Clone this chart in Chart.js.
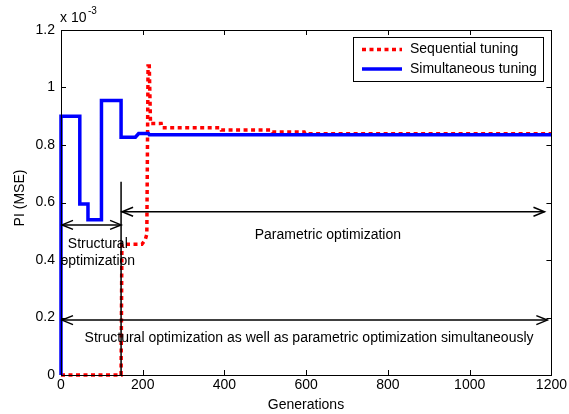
<!DOCTYPE html>
<html>
<head>
<meta charset="utf-8">
<script src="https://cdn.jsdelivr.net/npm/chart.js@4/dist/chart.umd.min.js"></script>
<style>
  html, body { margin: 0; padding: 0; background: #fff; }
  #wrap { width: 569px; height: 414px; }
</style>
</head>
<body>
<div id="wrap"><canvas id="c" width="569" height="414"></canvas></div>
<script>
// Performance index (MSE, in units of 1e-3) versus generations
const seqGen  = [0, 147, 149, 198, 206, 210, 213, 216, 219, 245, 247, 390, 392, 515, 517, 595, 597, 1200];
const seqPI   = [0, 0, 0.455, 0.455, 0.47, 0.49, 1.075, 1.075, 0.875, 0.875, 0.86, 0.86, 0.852, 0.852, 0.845, 0.845, 0.839, 0.839];
const simGen  = [0, 0, 46, 46, 66, 66, 99, 99, 147, 147, 182, 190, 214, 216, 1200];
const simPI   = [0, 0.9, 0.9, 0.595, 0.595, 0.54, 0.54, 0.955, 0.955, 0.827, 0.827, 0.84, 0.84, 0.836, 0.836];
const seriesNames = ['Sequential tuning', 'Simultaneous tuning'];
const xTicks = [0, 200, 400, 600, 800, 1000, 1200];
const yTicks = [0, 0.2, 0.4, 0.6, 0.8, 1, 1.2];

// Annotation arrows: [x0, x1, y, head at start, head at end]
const arrowSpans = [
  [0, 147, 0.522, true, true],
  [147, 1183, 0.568, true, true],
  [0, 1190, 0.191, true, true]
];
const dividerGen = 147, dividerTop = 0.672;
const notes = [
  { text: 'Structural', x: 90, y: 0.455 },
  { text: 'optimization', x: 90, y: 0.396 },
  { text: 'Parametric optimization', x: 653, y: 0.488 },
  { text: 'Structural optimization as well as parametric optimization simultaneously', x: 607, y: 0.128 }
];

const FONT = '"Liberation Sans", Arial, sans-serif';
const FS = 14;
const toPts = (xs, ys) => xs.map((x, i) => ({ x: x, y: ys[i] }));

const decor = {
  id: 'decor',
  afterDatasetsDraw(chart) {
    const ctx = chart.ctx, xs = chart.scales.x, ys = chart.scales.y, a = chart.chartArea;
    ctx.save();
    // axis box
    ctx.strokeStyle = '#000'; ctx.lineWidth = 1;
    ctx.strokeRect(Math.round(a.left) + 0.5, Math.round(a.top) + 0.5, Math.round(a.right - a.left), Math.round(a.bottom - a.top));
    // inward ticks on all four sides
    ctx.beginPath();
    xTicks.forEach(v => {
      const px = Math.round(xs.getPixelForValue(v)) + 0.5;
      ctx.moveTo(px, a.bottom); ctx.lineTo(px, a.bottom - 5);
      ctx.moveTo(px, a.top); ctx.lineTo(px, a.top + 5);
    });
    yTicks.forEach(v => {
      const py = Math.round(ys.getPixelForValue(v)) + 0.5;
      ctx.moveTo(a.left, py); ctx.lineTo(a.left + 5, py);
      ctx.moveTo(a.right, py); ctx.lineTo(a.right - 5, py);
    });
    ctx.stroke();

    // annotation arrows
    ctx.lineWidth = 1.5;
    const head = (x, y, dir) => {
      ctx.beginPath();
      ctx.moveTo(x - dir * 11, y - 4.5);
      ctx.lineTo(x, y);
      ctx.lineTo(x - dir * 11, y + 4.5);
      ctx.stroke();
    };
    arrowSpans.forEach(([g0, g1, v, h0, h1]) => {
      const x0 = xs.getPixelForValue(g0), x1 = xs.getPixelForValue(g1), y = ys.getPixelForValue(v);
      ctx.beginPath(); ctx.moveTo(x0, y); ctx.lineTo(x1, y); ctx.stroke();
      if (h0) head(x0 + 1, y, -1);
      if (h1) head(x1, y, 1);
    });
    const dx = xs.getPixelForValue(dividerGen);
    ctx.beginPath();
    ctx.moveTo(dx, ys.getPixelForValue(0)); ctx.lineTo(dx, ys.getPixelForValue(dividerTop));
    ctx.stroke();

    ctx.fillStyle = '#000';
    ctx.font = FS + 'px ' + FONT;
    ctx.textAlign = 'center'; ctx.textBaseline = 'middle';
    notes.forEach(n => ctx.fillText(n.text, xs.getPixelForValue(n.x), ys.getPixelForValue(n.y)));

    // legend
    const lx = 353, ly = 37, lw = 190, lh = 44;
    ctx.fillStyle = '#fff';
    ctx.fillRect(lx, ly, lw, lh);
    ctx.lineWidth = 1; ctx.strokeStyle = '#000';
    ctx.strokeRect(lx + 0.5, ly + 0.5, lw, lh);
    const ds = chart.data.datasets;
    [ [ds[0], 49.5], [ds[1], 69] ].forEach(([d, yy]) => {
      ctx.strokeStyle = d.borderColor; ctx.lineWidth = d.borderWidth;
      ctx.setLineDash(d.borderDash || []);
      ctx.beginPath(); ctx.moveTo(362, yy); ctx.lineTo(402, yy); ctx.stroke();
      ctx.setLineDash([]);
      ctx.fillStyle = '#000'; ctx.textAlign = 'left';
      ctx.fillText(d.label, 410, yy);
    });

    // axis titles and exponent
    ctx.textAlign = 'center';
    ctx.fillText('Generations', 306, 405);
    ctx.save();
    ctx.translate(20, 198); ctx.rotate(-Math.PI / 2);
    ctx.fillText('PI (MSE)', 0, 0);
    ctx.restore();
    ctx.textAlign = 'left';
    ctx.fillText('x 10', 60, 18);
    ctx.font = '10px ' + FONT;
    ctx.fillText('-3', 88, 11);
    ctx.restore();
  }
};

new Chart(document.getElementById('c'), {
  type: 'line',
  data: {
    datasets: [
      { label: seriesNames[0], data: toPts(seqGen, seqPI), borderColor: '#ff0000', borderWidth: 3.5,
        borderDash: [4, 3.5], pointRadius: 0, tension: 0, clip: false, order: 1 },
      { label: seriesNames[1], data: toPts(simGen, simPI), borderColor: '#0000ff', borderWidth: 3.5,
        pointRadius: 0, tension: 0, clip: false, order: 0 }
    ]
  },
  options: {
    responsive: false,
    animation: false,
    layout: { padding: { top: 30, right: 14, left: 0, bottom: 0 } },
    plugins: { legend: { display: false }, tooltip: { enabled: false } },
    scales: {
      x: {
        type: 'linear', min: 0, max: 1200,
        afterBuildTicks: s => { s.ticks = xTicks.map(v => ({ value: v })); },
        afterFit: s => { s.height = 39; },
        grid: { display: false, drawTicks: false, tickLength: 0 }, border: { display: false },
        ticks: { color: '#000', font: { family: FONT, size: FS }, padding: 2, maxRotation: 0,
                 callback: v => String(v) }
      },
      y: {
        type: 'linear', min: 0, max: 1.2,
        afterBuildTicks: s => { s.ticks = yTicks.map(v => ({ value: v })); },
        afterFit: s => { s.width = 61; },
        grid: { display: false, drawTicks: false, tickLength: 0 }, border: { display: false },
        ticks: { color: '#000', font: { family: FONT, size: FS }, padding: 6,
                 callback: v => String(parseFloat(v.toFixed(1))) }
      }
    }
  },
  plugins: [decor]
});
</script>
</body>
</html>
